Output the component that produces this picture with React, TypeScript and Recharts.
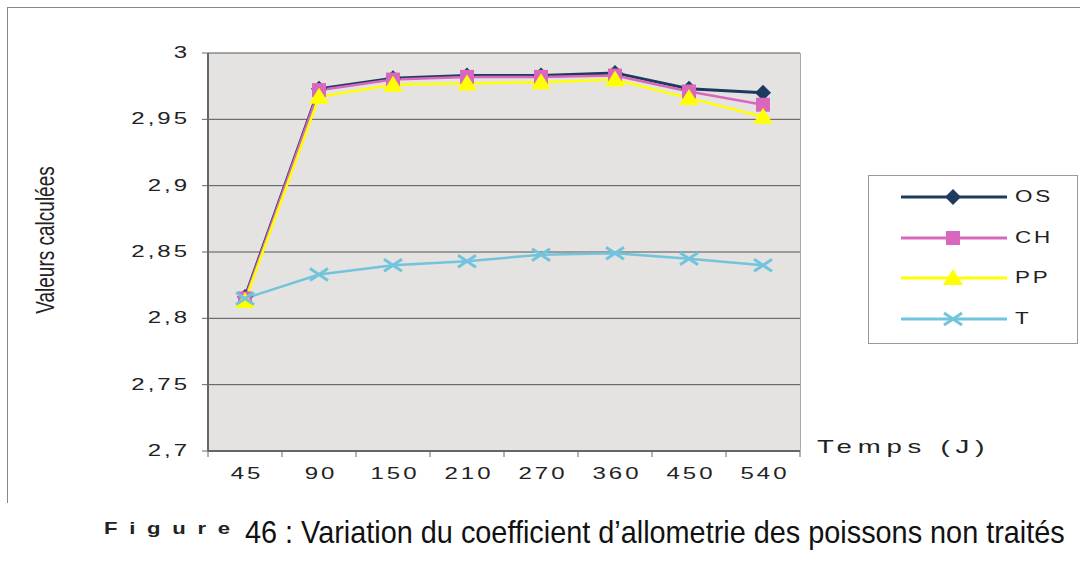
import { LineChart, Line, XAxis, YAxis, CartesianGrid } from 'recharts'

const jours = ['45', '90', '150', '210', '270', '360', '450', '540']
const os = [2.816, 2.973, 2.981, 2.983, 2.983, 2.985, 2.973, 2.970]
const ch = [2.815, 2.972, 2.980, 2.982, 2.982, 2.983, 2.971, 2.961]
const pp = [2.813, 2.967, 2.976, 2.977, 2.978, 2.980, 2.966, 2.952]
const t = [2.815, 2.833, 2.840, 2.843, 2.848, 2.849, 2.845, 2.840]
const yTicks = [2.7, 2.75, 2.8, 2.85, 2.9, 2.95, 3]

const data = jours.map((j, i) => ({ jour: j, OS: os[i], CH: ch[i], PP: pp[i], T: t[i] }))

const series = [
  { key: 'OS', color: '#1f3a5f', shape: 'diamond' },
  { key: 'CH', color: '#d868bd', shape: 'square' },
  { key: 'PP', color: '#ffff00', shape: 'triangle' },
  { key: 'T', color: '#72c4dc', shape: 'cross' },
]

const wide = { fontFamily: 'Liberation Sans, Arial, sans-serif', color: '#222' }

function Marker({ shape, cx, cy, color }: any) {
  if (cx == null || cy == null) return null
  if (shape === 'diamond')
    return <polygon points={`${cx},${cy - 8} ${cx + 8},${cy} ${cx},${cy + 8} ${cx - 8},${cy}`} fill={color} />
  if (shape === 'square') return <rect x={cx - 7} y={cy - 7} width={14} height={14} fill={color} />
  if (shape === 'triangle')
    return <polygon points={`${cx},${cy - 9} ${cx + 10},${cy + 7} ${cx - 10},${cy + 7}`} fill={color} />
  return (
    <g stroke={color} strokeWidth={3}>
      <line x1={cx - 9} y1={cy - 6} x2={cx + 9} y2={cy + 6} />
      <line x1={cx - 9} y1={cy + 6} x2={cx + 9} y2={cy - 6} />
    </g>
  )
}

function XTick({ x, y, payload, index }: any) {
  const half = 37
  return (
    <g>
      <line x1={x - half} y1={y - 8} x2={x - half} y2={y - 2} stroke="#666" />
      {index === jours.length - 1 && <line x1={x + half} y1={y - 8} x2={x + half} y2={y - 2} stroke="#666" />}
      <text transform={`translate(${x + 2},${y + 20}) scale(1.5,1)`} textAnchor="middle" fontSize={16} letterSpacing={2} fill="#222">
        {payload.value}
      </text>
    </g>
  )
}

function YTick({ x, y, payload }: any) {
  return (
    <text transform={`translate(${x},${y + 5}) scale(1.5,1)`} textAnchor="end" fontSize={16} letterSpacing={2} fill="#222">
      {String(payload.value).replace('.', ',')}
    </text>
  )
}

function LegendBox() {
  return (
    <div style={{ position: 'absolute', left: 868, top: 175, width: 210, height: 169, border: '1px solid #999', background: '#fff', boxSizing: 'border-box' }}>
      {series.map((s, i) => (
        <div key={s.key} style={{ position: 'absolute', left: 32, top: 12 + i * 40.5, height: 18, display: 'flex', alignItems: 'center' }}>
          <svg width={106} height={18}>
            <line x1={0} y1={9} x2={106} y2={9} stroke={s.color} strokeWidth={3} />
            <Marker shape={s.shape} cx={52} cy={9} color={s.color} />
          </svg>
          <span style={{ ...wide, marginLeft: 8, fontSize: 16, letterSpacing: 2, display: 'inline-block', transform: 'scaleX(1.4)', transformOrigin: 'left center' }}>{s.key}</span>
        </div>
      ))}
    </div>
  )
}

export default function App() {
  return (
    <div style={{ position: 'absolute', left: 0, top: 0, width: 1080, height: 580, background: '#fff', ...wide }}>
      <div style={{ position: 'absolute', left: 7, top: 7, width: 1080, height: 495, borderTop: '1px solid #888', borderLeft: '1px solid #888' }} />
      <div style={{ position: 'absolute', left: 0, top: 0 }}>
        <LineChart width={1080} height={580} data={data} margin={{ top: 53, left: 148, right: 280, bottom: 99 }}>
          <CartesianGrid vertical={false} stroke="#555" fill="#e4e3e1" />
          <XAxis dataKey="jour" height={30} padding={{ left: 37, right: 37 }} tickLine={false} tick={<XTick />} axisLine={{ stroke: '#666', strokeWidth: 2 }} />
          <YAxis
            width={60}
            domain={[2.7, 3]}
            ticks={yTicks}
            interval={0}
            tick={<YTick />}
            tickSize={6}
            tickMargin={12}
            tickLine={{ stroke: '#666' }}
            axisLine={{ stroke: '#666', strokeWidth: 2 }}
          />
          {series.map((s) => (
            <Line
              key={s.key}
              dataKey={s.key}
              stroke={s.color}
              strokeWidth={s.key === 'OS' ? 3 : 2.5}
              isAnimationActive={false}
              dot={(p: any) => <Marker key={`${s.key}-${p.index}`} shape={s.shape} cx={p.cx} cy={p.cy} color={s.color} />}
              activeDot={false}
            />
          ))}
        </LineChart>
      </div>
      <div style={{ position: 'absolute', left: 800, top: 53, height: 398, borderLeft: '1px solid #aaa' }} />
      <LegendBox />
      <div style={{ position: 'absolute', left: 46, top: 240, transform: 'translate(-50%, -50%) rotate(-90deg) scale(0.95, 1.25)', fontSize: 20, color: '#222', whiteSpace: 'nowrap' }}>
        Valeurs calculées
      </div>
      <div style={{ position: 'absolute', left: 817, top: 436, fontSize: 19, letterSpacing: 4, transform: 'scaleX(1.45)', transformOrigin: 'left top', whiteSpace: 'nowrap' }}>Temps (J)</div>
      <div style={{ position: 'absolute', left: 104, top: 519, fontSize: 17, fontWeight: 'bold', letterSpacing: 9, transform: 'scaleX(1.3)', transformOrigin: 'left top', whiteSpace: 'nowrap' }}>Figure</div>
      <div style={{ position: 'absolute', left: 245, top: 515, fontSize: 28, color: '#111', whiteSpace: 'nowrap', transform: 'scale(1.03, 1.1)', transformOrigin: 'left top' }}>
        46 : Variation du coefficient d’allometrie des poissons non traités
      </div>
    </div>
  )
}
